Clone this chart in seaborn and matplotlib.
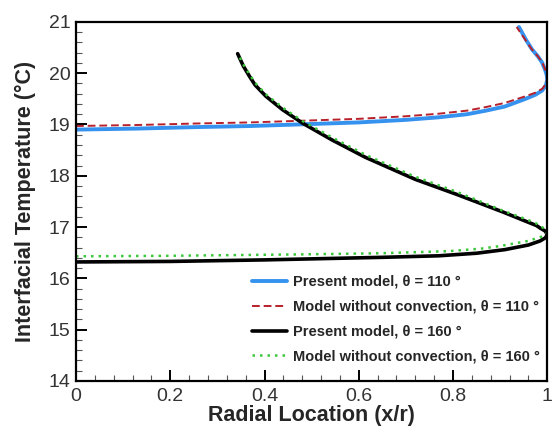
import numpy as np
import pandas as pd
import matplotlib
matplotlib.use("Agg")
import matplotlib.pyplot as plt
from matplotlib.ticker import MultipleLocator
import seaborn as sns

# ---- data ----
x_p110 = [0.0, 0.13, 0.26, 0.37, 0.47, 0.6, 0.7, 0.77, 0.83, 0.87, 0.91, 0.954, 0.975,
          0.989, 0.997, 1.0, 0.999, 0.996, 0.989, 0.98, 0.968, 0.955, 0.94]
T_p110 = [18.90, 18.92, 18.95, 18.97, 19.0, 19.04, 19.09, 19.14, 19.2, 19.27, 19.35, 19.5, 19.58,
          19.66, 19.76, 19.87, 19.96, 20.05, 20.21, 20.33, 20.46, 20.65, 20.9]
x_n110 = [0.0, 0.13, 0.26, 0.37, 0.47, 0.6, 0.7, 0.77, 0.83, 0.87, 0.91, 0.954, 0.975,
          0.99, 0.997, 1.0, 0.999, 0.996, 0.989, 0.979, 0.966, 0.952, 0.935]
T_n110 = [18.97, 18.99, 19.02, 19.04, 19.07, 19.11, 19.16, 19.21, 19.27, 19.34, 19.42, 19.55, 19.62,
          19.70, 19.79, 19.88, 19.97, 20.06, 20.22, 20.34, 20.48, 20.67, 20.9]
x_p160 = [0.0, 0.2, 0.4, 0.5, 0.65, 0.77, 0.85, 0.91, 0.96, 0.985, 0.996, 1.0, 0.996, 0.985,
          0.977, 0.95, 0.907, 0.85, 0.807, 0.72, 0.614, 0.543, 0.48, 0.438, 0.403, 0.38,
          0.368, 0.355, 0.343]
T_p160 = [16.32, 16.33, 16.36, 16.38, 16.41, 16.44, 16.49, 16.56, 16.65, 16.73, 16.79, 16.85, 16.92, 16.98,
          17.03, 17.13, 17.29, 17.49, 17.64, 17.93, 18.36, 18.70, 19.03, 19.29, 19.55, 19.77,
          19.94, 20.14, 20.38]
x_n160 = [0.0, 0.2, 0.4, 0.5, 0.65, 0.79, 0.86, 0.9, 0.96, 0.99, 0.998, 1.0, 0.996, 0.985,
          0.975, 0.95, 0.9, 0.85, 0.807, 0.72, 0.614, 0.543, 0.48, 0.44, 0.405, 0.383,
          0.37, 0.357, 0.345]
T_n160 = [16.43, 16.44, 16.46, 16.47, 16.49, 16.53, 16.58, 16.63, 16.73, 16.82, 16.86, 16.9, 16.96, 17.02,
          17.08, 17.17, 17.34, 17.53, 17.69, 17.98, 18.41, 18.75, 19.07, 19.32, 19.57, 19.78,
          19.95, 20.14, 20.35]

labels = ["Present model, \u03b8 = 110 \u00b0",
          "Model without convection, \u03b8 = 110 \u00b0",
          "Present model, \u03b8 = 160 \u00b0",
          "Model without convection, \u03b8 = 160 \u00b0"]
x_ticks = [0, 0.2, 0.4, 0.6, 0.8, 1]
x_tick_labels = ["0", "0.2", "0.4", "0.6", "0.8", "1"]
y_ticks = [14, 15, 16, 17, 18, 19, 20, 21]

series = [(x_p110, T_p110), (x_n110, T_n110), (x_p160, T_p160), (x_n160, T_n160)]
frames = []
for lab, (xs, ts) in zip(labels, series):
    frames.append(pd.DataFrame({"x": xs, "T": ts, "series": lab, "order": range(len(xs))}))
df = pd.concat(frames, ignore_index=True)

sns.set_theme(style="white")
plt.rcParams["font.family"] = ["Liberation Sans", "DejaVu Sans"]

fig = plt.figure(figsize=(5.55, 4.29), dpi=100)
ax = fig.add_axes([0.137, 0.112, 0.849, 0.837])

styles = [dict(color="#3592ee", lw=2.8, ls="-"),
          dict(color="#b8202a", lw=1.4, ls=(0, (4, 2))),
          dict(color="black", lw=2.6, ls="-"),
          dict(color="#3cc83c", lw=1.8, ls=(0, (1, 2)))]
for lab, st in zip(labels, styles):
    sub = df[df["series"] == lab]
    sns.lineplot(data=sub, x="x", y="T", sort=False, estimator=None, ax=ax,
                 color=st["color"], linewidth=st["lw"], linestyle=st["ls"], label=lab)

ax.set_xlim(0, 1)
ax.set_ylim(14, 21)
ax.set_xticks(x_ticks)
ax.set_xticklabels(x_tick_labels)
ax.set_yticks(y_ticks)
ax.xaxis.set_minor_locator(MultipleLocator(0.04))
ax.yaxis.set_minor_locator(MultipleLocator(0.2))
ax.tick_params(axis="both", which="major", direction="in", length=8, width=1.4,
               labelsize=14, labelcolor="#333333", colors="black", pad=4)
ax.tick_params(axis="x", which="major", pad=5)
ax.tick_params(axis="both", which="minor", direction="in", length=4, width=0.8, colors="#555555")
ax.tick_params(axis="x", which="both", bottom=True, top=False)
ax.tick_params(axis="y", which="both", left=True, right=False)
for sp in ax.spines.values():
    sp.set_color("black")
    sp.set_linewidth(1.6)

ax.set_xlabel("Radial Location (x/r)", fontsize=15.5, fontweight="bold", labelpad=0)
ax.set_ylabel("Interfacial Temperature (\u00b0C)", fontsize=15.5, fontweight="bold", labelpad=9)

leg = ax.legend(loc="lower right", bbox_to_anchor=(1.005, 0.02), frameon=False,
                prop={"weight": "bold", "size": 10.5}, handlelength=2.4, handletextpad=0.35,
                labelspacing=0.75, borderaxespad=0.3)

fig.savefig("out.png", dpi=100)
